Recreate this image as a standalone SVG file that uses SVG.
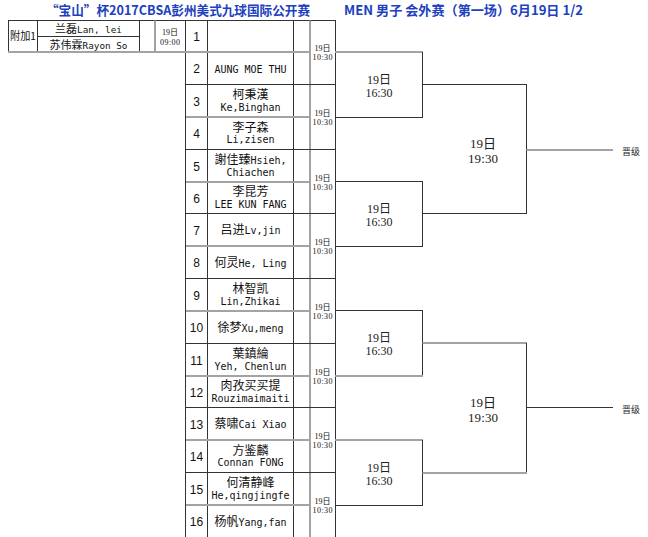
<svg xmlns="http://www.w3.org/2000/svg" width="648" height="537" viewBox="0 0 648 537">
<style>
.d{stroke:#333;stroke-width:1;fill:none}
.g{stroke:#a3a3a3;stroke-width:2;fill:none}
.t{font-family:"Noto Sans CJK SC",sans-serif;fill:#2040c0;font-weight:bold;font-size:13px}
.nm{font-family:"DejaVu Sans Mono","Noto Sans CJK SC",monospace;font-size:10px;fill:#111;text-anchor:middle}
.c{font-family:"Noto Sans CJK SC",sans-serif;font-size:12px}
.pn{font-family:"DejaVu Sans Mono","Noto Sans CJK SC",monospace;font-size:9.3px;fill:#111;text-anchor:middle}
.pc{font-family:"Noto Sans CJK SC",sans-serif;font-size:11px}
.no{font-family:"Liberation Sans",sans-serif;font-size:12px;text-anchor:middle;fill:#111}
.tm{font-family:"Liberation Serif","Noto Sans CJK SC",serif;font-size:8px;text-anchor:middle;fill:#111}
.b1{font-family:"Liberation Serif","Noto Sans CJK SC",serif;font-size:12px;text-anchor:middle;fill:#222}
.b2{font-family:"Liberation Serif","Noto Sans CJK SC",serif;font-size:13px;text-anchor:middle;fill:#222}
.q{font-family:"Noto Sans CJK SC",sans-serif;font-size:9px;fill:#222}
.pl{font-family:"Noto Sans CJK SC",sans-serif;font-size:11px;fill:#111}
</style>
<rect width="648" height="537" fill="#fff"/>
<g id="title">
<text class="t" x="46" y="15" textLength="264" lengthAdjust="spacingAndGlyphs">“宝山”杯2017CBSA彭州美式九球国际公开赛</text>
<text class="t" x="344" y="15" textLength="239" lengthAdjust="spacingAndGlyphs">MEN 男子 会外赛（第一场）6月19日 1/2</text>
</g>
<g id="grid">
<line class="d" x1="8" y1="20.5" x2="336" y2="20.5"/>
<line class="d" x1="8.5" y1="20.5" x2="8.5" y2="52"/>
<line class="d" x1="37.5" y1="20.5" x2="37.5" y2="52"/>
<line class="d" x1="139.5" y1="20.5" x2="139.5" y2="52"/>
<line class="g" x1="155" y1="20.5" x2="155" y2="52"/>
<line class="d" x1="37.5" y1="36.5" x2="139.5" y2="36.5"/>
<line class="d" x1="185.5" y1="20.5" x2="185.5" y2="537"/>
<line class="d" x1="207.5" y1="20.5" x2="207.5" y2="537"/>
<line class="d" x1="293.5" y1="20.5" x2="293.5" y2="537" stroke="#666"/>
<line class="g" x1="310" y1="20.5" x2="310" y2="537"/>
<line class="d" x1="335.5" y1="20.5" x2="335.5" y2="537"/>
<line class="g" x1="8" y1="52" x2="310" y2="52"/>
<line class="g" x1="186" y1="117" x2="310" y2="117"/>
<line class="g" x1="186" y1="182" x2="310" y2="182"/>
<line class="g" x1="186" y1="246" x2="310" y2="246"/>
<line class="g" x1="186" y1="311" x2="310" y2="311"/>
<line class="g" x1="186" y1="376" x2="310" y2="376"/>
<line class="g" x1="186" y1="440" x2="310" y2="440"/>
<line class="g" x1="186" y1="505" x2="310" y2="505"/>
<line class="d" x1="185.5" y1="84.5" x2="336" y2="84.5"/>
<line class="d" x1="185.5" y1="149.5" x2="336" y2="149.5"/>
<line class="d" x1="185.5" y1="213.5" x2="336" y2="213.5"/>
<line class="d" x1="185.5" y1="278.5" x2="336" y2="278.5"/>
<line class="d" x1="185.5" y1="343.5" x2="336" y2="343.5"/>
<line class="d" x1="185.5" y1="407.5" x2="336" y2="407.5"/>
<line class="d" x1="185.5" y1="472.5" x2="336" y2="472.5"/>
</g>
<g id="playoff-1">
<text class="pl" x="10" y="40" textLength="26" lengthAdjust="spacingAndGlyphs">附加1</text>
<text class="pn" x="88.5" y="33"><tspan class="pc">兰磊</tspan>Lan, lei</text>
<text class="pn" x="88.5" y="48.5"><tspan class="pc">苏伟霖</tspan>Rayon So</text>
<text class="tm" x="170" y="35">19日</text>
<text class="tm" x="170" y="45" textLength="20">09:00</text>
</g>
<g id="seed-1"><text class="no" x="196.5" y="41">1</text></g>
<g id="seed-2"><text class="no" x="196.5" y="73">2</text><text class="nm" x="250.5" y="72.7" textLength="72">AUNG MOE THU</text></g>
<g id="seed-3"><text class="no" x="196.5" y="105.6">3</text><text class="nm" x="250.5" y="99.3"><tspan class="c">柯秉漢</tspan></text><text class="nm" x="250.5" y="110.8" textLength="60">Ke,Binghan</text></g>
<g id="seed-4"><text class="no" x="196.5" y="138">4</text><text class="nm" x="250.5" y="131.7"><tspan class="c">李子森</tspan></text><text class="nm" x="250.5" y="143.2" textLength="48">Li,zisen</text></g>
<g id="seed-5"><text class="no" x="196.5" y="170.6">5</text><text class="nm" x="250.5" y="164.3"><tspan class="c">謝佳臻</tspan>Hsieh,</text><text class="nm" x="250.5" y="175.8" textLength="48">Chiachen</text></g>
<g id="seed-6"><text class="no" x="196.5" y="202.6">6</text><text class="nm" x="250.5" y="196.3"><tspan class="c">李昆芳</tspan></text><text class="nm" x="250.5" y="207.8" textLength="72">LEE KUN FANG</text></g>
<g id="seed-7"><text class="no" x="196.5" y="234.6">7</text><text class="nm" x="250.5" y="234.3"><tspan class="c">吕进</tspan>Lv,jin</text></g>
<g id="seed-8"><text class="no" x="196.5" y="267">8</text><text class="nm" x="250.5" y="266.7"><tspan class="c">何灵</tspan>He, Ling</text></g>
<g id="seed-9"><text class="no" x="196.5" y="299.6">9</text><text class="nm" x="250.5" y="293.3"><tspan class="c">林智凯</tspan></text><text class="nm" x="250.5" y="304.8" textLength="60">Lin,Zhikai</text></g>
<g id="seed-10"><text class="no" x="196.5" y="332">10</text><text class="nm" x="250.5" y="331.7"><tspan class="c">徐梦</tspan>Xu,meng</text></g>
<g id="seed-11"><text class="no" x="196.5" y="364.6">11</text><text class="nm" x="250.5" y="358.3"><tspan class="c">葉鎮綸</tspan></text><text class="nm" x="250.5" y="369.8" textLength="72">Yeh, Chenlun</text></g>
<g id="seed-12"><text class="no" x="196.5" y="396.6">12</text><text class="nm" x="250.5" y="390.3"><tspan class="c">肉孜买买提</tspan></text><text class="nm" x="250.5" y="401.8" textLength="78">Rouzimaimaiti</text></g>
<g id="seed-13"><text class="no" x="196.5" y="428.6">13</text><text class="nm" x="250.5" y="428.3"><tspan class="c">蔡啸</tspan>Cai Xiao</text></g>
<g id="seed-14"><text class="no" x="196.5" y="461">14</text><text class="nm" x="250.5" y="454.7"><tspan class="c">方鉴麟</tspan></text><text class="nm" x="250.5" y="466.2" textLength="66">Connan FONG</text></g>
<g id="seed-15"><text class="no" x="196.5" y="493.6">15</text><text class="nm" x="250.5" y="487.3"><tspan class="c">何清静峰</tspan></text><text class="nm" x="250.5" y="498.8" textLength="78">He,qingjingfe</text></g>
<g id="seed-16"><text class="no" x="196.5" y="525.8">16</text><text class="nm" x="250.5" y="525.5"><tspan class="c">杨帆</tspan>Yang,fan</text></g>
<g id="time-1"><text class="tm" x="322.5" y="51">19日</text><text class="tm" x="322.5" y="59.5" textLength="20">10:30</text></g>
<g id="time-2"><text class="tm" x="322.5" y="116">19日</text><text class="tm" x="322.5" y="124.5" textLength="20">10:30</text></g>
<g id="time-3"><text class="tm" x="322.5" y="181">19日</text><text class="tm" x="322.5" y="189.5" textLength="20">10:30</text></g>
<g id="time-4"><text class="tm" x="322.5" y="245">19日</text><text class="tm" x="322.5" y="253.5" textLength="20">10:30</text></g>
<g id="time-5"><text class="tm" x="322.5" y="310">19日</text><text class="tm" x="322.5" y="318.5" textLength="20">10:30</text></g>
<g id="time-6"><text class="tm" x="322.5" y="375">19日</text><text class="tm" x="322.5" y="383.5" textLength="20">10:30</text></g>
<g id="time-7"><text class="tm" x="322.5" y="439">19日</text><text class="tm" x="322.5" y="447.5" textLength="20">10:30</text></g>
<g id="time-8"><text class="tm" x="322.5" y="504">19日</text><text class="tm" x="322.5" y="512.5" textLength="20">10:30</text></g>
<g id="match-r1-1"><text class="b1" x="379" y="84">19日</text><text class="b1" x="379" y="97" textLength="27">16:30</text></g>
<g id="match-r1-2"><text class="b1" x="379" y="213">19日</text><text class="b1" x="379" y="226" textLength="27">16:30</text></g>
<g id="match-r1-3"><text class="b1" x="379" y="342">19日</text><text class="b1" x="379" y="355" textLength="27">16:30</text></g>
<g id="match-r1-4"><text class="b1" x="379" y="472">19日</text><text class="b1" x="379" y="485" textLength="27">16:30</text></g>
<g id="match-r2-1"><text class="b2" x="483" y="147.5">19日</text><text class="b2" x="483" y="162.5" textLength="30">19:30</text></g>
<g id="match-r2-2"><text class="b2" x="483" y="406.5">19日</text><text class="b2" x="483" y="421.5" textLength="30">19:30</text></g>
<g id="advance-1"><text class="q" x="622" y="155">晋级</text></g>
<g id="advance-2"><text class="q" x="622" y="413">晋级</text></g>
<g id="connectors">
<line class="g" x1="335" y1="52" x2="423" y2="52"/>
<line class="d" x1="422.5" y1="52" x2="422.5" y2="117.5"/>
<line class="d" x1="335" y1="117.5" x2="423" y2="117.5"/>
<line class="d" x1="335" y1="181.5" x2="423" y2="181.5"/>
<line class="d" x1="422.5" y1="181.5" x2="422.5" y2="246.5"/>
<line class="d" x1="335" y1="246.5" x2="423" y2="246.5"/>
<line class="d" x1="335" y1="310.5" x2="423" y2="310.5"/>
<line class="d" x1="422.5" y1="310.5" x2="422.5" y2="376"/>
<line class="g" x1="335" y1="376" x2="423" y2="376"/>
<line class="g" x1="335" y1="440" x2="423" y2="440"/>
<line class="d" x1="422.5" y1="440" x2="422.5" y2="505.5"/>
<line class="d" x1="335" y1="505.5" x2="423" y2="505.5"/>
<line class="d" x1="422.5" y1="84.5" x2="527" y2="84.5"/>
<line class="d" x1="526.5" y1="84.5" x2="526.5" y2="213.5"/>
<line class="d" x1="422.5" y1="213.5" x2="527" y2="213.5"/>
<line class="g" x1="526.5" y1="150" x2="613" y2="150"/>
<line class="g" x1="422.5" y1="343" x2="527" y2="343"/>
<line class="d" x1="526.5" y1="343" x2="526.5" y2="473"/>
<line class="g" x1="422.5" y1="473" x2="527" y2="473"/>
<line class="d" x1="526.5" y1="407.5" x2="613" y2="407.5"/>
</g>
</svg>
